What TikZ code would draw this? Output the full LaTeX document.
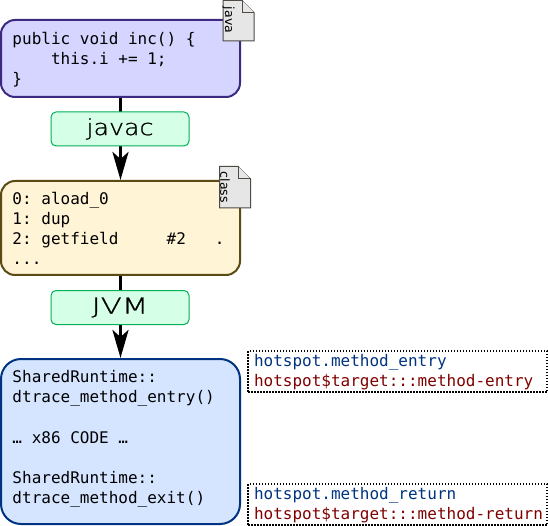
\documentclass[tikz,border=0pt]{standalone}
\usepackage{fontspec}
\setmainfont{DejaVu Sans}
\setmonofont{DejaVu Sans Mono}
\newfontfamily\javacfont[FakeStretch=1.15,FakeBold=1]{DejaVu Sans ExtraLight}
\newfontfamily\jvmfont[FakeStretch=1.4,FakeBold=1]{DejaVu Sans ExtraLight}
\usetikzlibrary{arrows.meta}
\definecolor{javafill}{HTML}{D5D5FF}
\definecolor{javaline}{HTML}{3C2A80}
\definecolor{classfill}{HTML}{FFF4D5}
\definecolor{classline}{HTML}{5C4A14}
\definecolor{nativefill}{HTML}{D5E5FF}
\definecolor{nativeline}{HTML}{003380}
\definecolor{toolfill}{HTML}{D5FFE6}
\definecolor{toolline}{HTML}{00B054}
\definecolor{iconfill}{HTML}{E6E6E6}
\definecolor{iconline}{HTML}{504A44}
\definecolor{probeblue}{HTML}{003380}
\definecolor{probered}{HTML}{800000}
\newcommand{\tailgap}[1]{\par\nointerlineskip\vspace{#1}\hbox{}}
\tikzset{
  codebox/.style={draw, line width=2pt, rounded corners=14pt, minimum width=239pt, text width=216pt,
    inner xsep=11.5pt, inner ysep=0pt, align=flush left, font=\ttfamily\fontsize{16}{20}\selectfont},
  toolbox/.style={draw=toolline, fill=toolfill, line width=1pt, rounded corners=5pt, minimum width=138pt,
    minimum height=34pt, inner sep=0pt},
  probebox/.style={draw, dash pattern=on 1.5pt off 1.5pt, line width=1.3pt, minimum width=299pt, minimum height=41pt,
    inner sep=0pt, text width=287pt, align=flush left, font=\ttfamily\fontsize{16}{20}\selectfont},
  flow/.style={line width=3.5pt, -{Stealth[length=28pt, width=16pt, inset=7pt]}},
  fileicon/.style={draw=iconline, fill=iconfill, line width=1pt},
  filetag/.style={rotate=-90, inner sep=0pt, font=\fontsize{12.5}{12.5}\selectfont},
}
\begin{document}
\begin{tikzpicture}[x=1pt, y=-1pt]
    \useasboundingbox (0,0) rectangle (548,526);
    % source, bytecode and native code
    \node[codebox, draw=javaline, fill=javafill, minimum height=77pt] (source) at (120.5,58.5)
        {public void inc() \{\\~~~~this.i += 1;\\\}\tailgap{-2pt}};
    \node[codebox, draw=classline, fill=classfill, minimum height=94pt] (bytecode) at (120.5,228)
        {0: aload\_0\\1: dup\\2: getfield~~~~~\#2~~~.\\...};
    \node[codebox, draw=nativeline, fill=nativefill, minimum height=165pt, rounded corners=20pt,
        font=\ttfamily\fontsize{16}{20.2}\selectfont] (native) at (120.5,441.5)
        {SharedRuntime::\\dtrace\_method\_entry()\\~\\… x86 CODE …\\~\\SharedRuntime::\\dtrace\_method\_exit()\tailgap{5pt}};
    % arrows go under the tools
    \draw[flow] (source.south) -- (bytecode.north);
    \draw[flow] (bytecode.south) -- (native.north);
    \node[toolbox, font=\javacfont\fontsize{22}{22}\selectfont] (javac) at (120,129) {javac};
    \node[toolbox, font=\jvmfont\fontsize{22}{22}\selectfont] (jvm) at (120,307.5) {JVM};
    % file icons
    \draw[fileicon] (223,0.5) -- (242,0.5) -- (254,12.5) -- (254,41) -- (223,41) -- cycle;
    \draw[fileicon] (242,0.5) -- (242,12.5) -- (254,12.5);
    \node[filetag] (javatag) at (228.5,20) {java};
    \draw[fileicon] (219.5,166.5) -- (238,166.5) -- (250.5,179) -- (250.5,208) -- (219.5,208) -- cycle;
    \draw[fileicon] (238,166.5) -- (238,179) -- (250.5,179);
    \node[filetag] (classtag) at (225,187.5) {class};
    % probes
    \node[probebox] (entry) at (397.5,371.5)
        {\textcolor{probeblue}{hotspot.method\_entry}\\\textcolor{probered}{hotspot\$target:::method-entry}\tailgap{-2pt}};
    \node[probebox] (return) at (397.5,504.5)
        {\textcolor{probeblue}{hotspot.method\_return}\\\textcolor{probered}{hotspot\$target:::method-return}\tailgap{-2pt}};
\end{tikzpicture}
\end{document}
